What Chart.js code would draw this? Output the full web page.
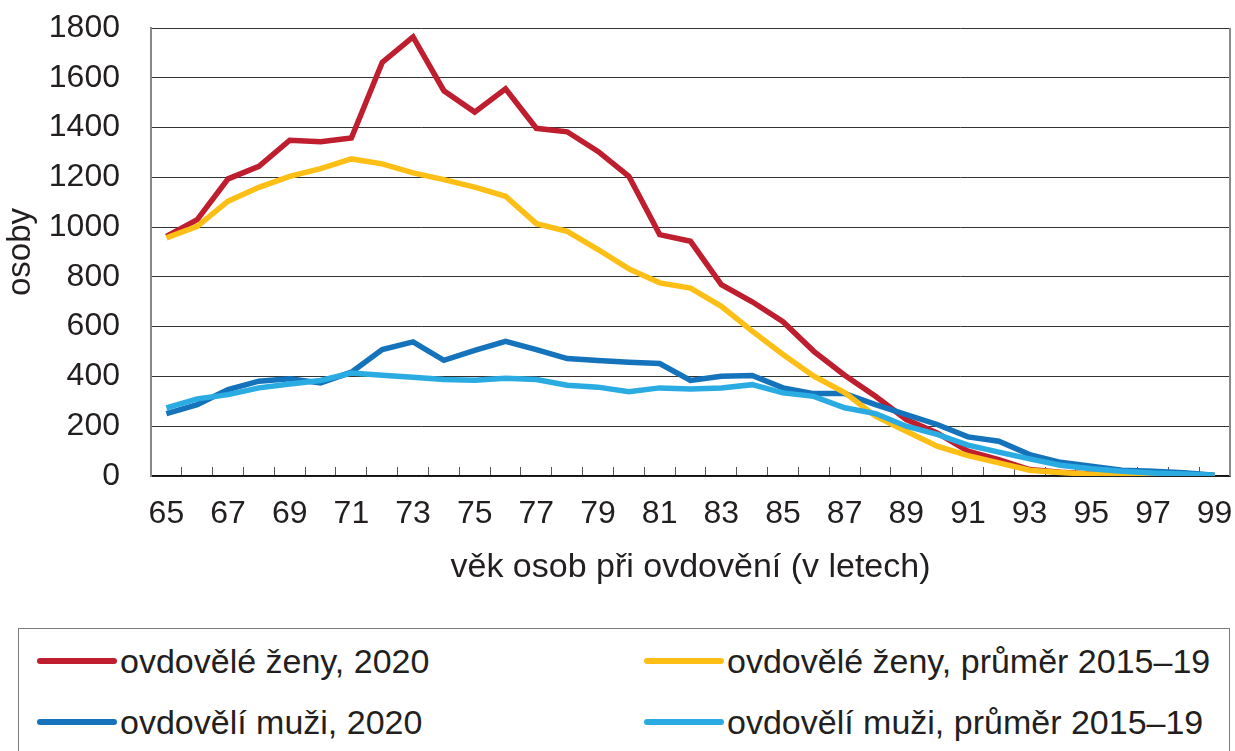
<!DOCTYPE html>
<html lang="cs">
<head>
<meta charset="utf-8">
<title>Ovdovělí podle věku</title>
<script src="https://cdn.jsdelivr.net/npm/chart.js@4/dist/chart.umd.min.js"></script>
<style>
  body { margin: 0; background: #fff; width: 1235px; height: 751px; overflow: hidden; position: relative;
         font-family: "Liberation Sans", Arial, sans-serif; color: #231f20; }
  #chart { position: absolute; left: 0; top: 0; }
  #legend { position: absolute; left: 18px; top: 628px; width: 1212px; height: 140px;
            border: 1px solid #7a7a7a; box-sizing: border-box; }
  .item { position: absolute; display: flex; align-items: center; height: 40px; font-size: 34px; white-space: nowrap; }
  .swatch { width: 80px; height: 6px; border-radius: 3px; margin-right: 3px; }
</style>
</head>
<body>
<canvas id="chart" width="1235" height="600"></canvas>
<div id="legend"></div>
<script>
// věk při ovdovění 65–99
const ages = ['65','66','67','68','69','70','71','72','73','74','75','76','77','78','79','80','81','82',
              '83','84','85','86','87','88','89','90','91','92','93','94','95','96','97','98','99'];

const zeny2020 = [963, 1030, 1194, 1244, 1349, 1343, 1358, 1662, 1764, 1548, 1462, 1556, 1397, 1383, 1304, 1204, 970, 943,
                  769, 700, 620, 501, 405, 320, 227, 173, 100, 66, 26, 15, 8, 5, 3, 2, 1];
const zenyPrumer = [957, 1003, 1104, 1160, 1204, 1235, 1274, 1254, 1218, 1191, 1161, 1124, 1014, 983, 910, 832, 776, 755,
                    682, 582, 488, 401, 335, 240, 180, 120, 82, 53, 23, 14, 7, 4, 2, 1, 0];
const muzi2020 = [251, 287, 347, 381, 391, 374, 417, 508, 539, 465, 505, 541, 508, 472, 464, 457, 452, 384,
                  401, 404, 354, 331, 331, 287, 247, 207, 157, 140, 86, 55, 39, 23, 19, 13, 3];
const muziPrumer = [274, 310, 327, 354, 370, 384, 414, 405, 397, 388, 385, 393, 388, 365, 357, 339, 354, 350,
                    354, 367, 334, 320, 274, 251, 200, 167, 124, 96, 69, 43, 29, 19, 12, 8, 3];

const yTicks = [0, 200, 400, 600, 800, 1000, 1200, 1400, 1600, 1800];

const series = [
  { name: 'ovdovělé ženy, 2020', data: zeny2020, color: '#be1e2d', order: 3 },
  { name: 'ovdovělé ženy, průměr 2015–19', data: zenyPrumer, color: '#fdbe16', order: 1 },
  { name: 'ovdovělí muži, 2020', data: muzi2020, color: '#1473ba', order: 2 },
  { name: 'ovdovělí muži, průměr 2015–19', data: muziPrumer, color: '#2aabe2', order: 0 }
];

const TEXT = '#231f20';
const FONT = '"Liberation Sans", Arial, sans-serif';

// right-hand frame line of the plot area
const frameRight = {
  id: 'frameRight',
  afterDraw(chart) {
    const a = chart.chartArea, ctx = chart.ctx;
    ctx.save();
    ctx.strokeStyle = '#8a8a8a';
    ctx.lineWidth = 2;
    ctx.beginPath();
    ctx.moveTo(a.right, a.top);
    ctx.lineTo(a.right, a.bottom);
    ctx.stroke();
    ctx.restore();
  }
};

new Chart(document.getElementById('chart'), {
  type: 'line',
  data: {
    labels: ages,
    datasets: series.map(s => ({
      label: s.name,
      data: s.data,
      borderColor: s.color,
      backgroundColor: s.color,
      borderWidth: 5.5,
      pointRadius: 0,
      tension: 0,
      order: s.order
    }))
  },
  options: {
    responsive: false,
    animation: false,
    devicePixelRatio: 1,
    layout: { padding: { top: 28, right: 5, left: 0, bottom: 0 } },
    plugins: { legend: { display: false }, tooltip: { enabled: false } },
    scales: {
      x: {
        offset: true,
        grid: { offset: true, drawOnChartArea: false, tickLength: -9, color: '#555', lineWidth: 1 },
        border: { color: '#111', width: 1.5 },
        ticks: {
          autoSkip: false, maxRotation: 0, padding: 28, color: TEXT,
          font: { family: FONT, size: 32 },
          callback: (v, i) => (i % 2 === 0 ? ages[i] : '')
        },
        title: {
          display: true, text: 'věk osob při ovdovění (v letech)', color: TEXT,
          font: { family: FONT, size: 34 }, padding: { top: 12, bottom: 12 }
        },
        afterFit: s => { s.height = 124; s.paddingLeft = 0; s.paddingRight = 0; }
      },
      y: {
        min: 0, max: 1800,
        afterBuildTicks: s => { s.ticks = yTicks.map(v => ({ value: v })); },
        grid: { color: '#333', lineWidth: 1, drawTicks: false },
        border: { color: '#888', width: 2 },
        ticks: { padding: 31, color: TEXT, font: { family: FONT, size: 32 }, callback: v => String(v) },
        title: {
          display: true, text: 'osoby', color: TEXT,
          font: { family: FONT, size: 33 }, padding: { top: 1, bottom: 0 }
        },
        afterFit: s => { s.width = 151; s.paddingTop = 0; s.paddingBottom = 0; }
      }
    }
  },
  plugins: [frameRight]
});

// legend: two columns, two rows
const legend = document.getElementById('legend');
const pos = [[18, 12], [625, 12], [18, 73], [625, 73]];
const legendOrder = [0, 1, 2, 3];
legendOrder.forEach((k, i) => {
  const s = series[k];
  const el = document.createElement('div');
  el.className = 'item';
  el.style.left = pos[i][0] + 'px';
  el.style.top = pos[i][1] + 'px';
  el.innerHTML = '<span class="swatch" style="background:' + s.color + '"></span><span>' + s.name + '</span>';
  legend.appendChild(el);
});
</script>
</body>
</html>
